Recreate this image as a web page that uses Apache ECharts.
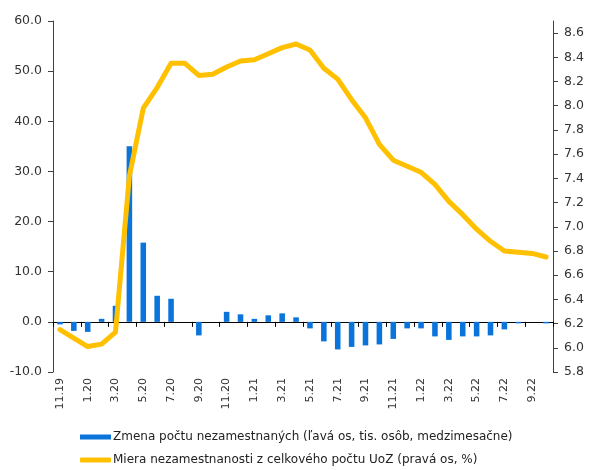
<!DOCTYPE html>
<html><head><meta charset="utf-8">
<script src="https://cdn.jsdelivr.net/npm/echarts@6/dist/echarts.min.js"></script>
<style>html,body{margin:0;padding:0;background:#fff}#c{width:589px;height:470px}</style>
</head><body><div id="c"></div>
<script>
const categories = ['11.19','12.19','1.20','2.20','3.20','4.20','5.20','6.20','7.20','8.20','9.20','10.20',
  '11.20','12.20','1.21','2.21','3.21','4.21','5.21','6.21','7.21','8.21','9.21','10.21',
  '11.21','12.21','1.22','2.22','3.22','4.22','5.22','6.22','7.22','8.22','9.22','10.22'];
const changeUnemployed = [-0.5,-1.8,-2.0,0.6,3.2,35.0,15.8,5.2,4.6,0,-2.7,0,
  2.0,1.5,0.6,1.3,1.7,0.9,-1.3,-3.9,-5.5,-5.0,-4.7,-4.5,
  -3.4,-1.3,-1.3,-2.9,-3.6,-2.9,-2.9,-2.7,-1.5,-0.3,0,-0.3];
const unemploymentRate = [6.15,6.08,6.01,6.03,6.13,7.42,7.98,8.15,8.35,8.35,8.25,8.26,
  8.32,8.37,8.38,8.43,8.48,8.51,8.46,8.31,8.22,8.05,7.90,7.68,
  7.55,7.50,7.45,7.35,7.21,7.10,6.98,6.88,6.80,6.79,6.78,6.75];
const seriesNames = ['Zmena počtu nezamestnaných (ľavá os, tis. osôb, medzimesačne)',
  'Miera nezamestnanosti z celkového počtu UoZ (pravá os, %)'];

const font = 'DejaVu Sans, Verdana, sans-serif';
const axisColor = '#404040';
const chart = echarts.init(document.getElementById('c'), null, {renderer:'canvas'});
chart.setOption({
  animation:false,
  grid:{left:53,right:36,top:21,bottom:98,containLabel:false},
  legend:{
    orient:'vertical', left:80, top:431, height:60, padding:0, itemGap:11, itemWidth:31, itemHeight:5,
    textStyle:{fontFamily:font,fontSize:12,color:'#222',padding:[0,0,0,-3]},
    data:[{name:seriesNames[0],icon:'rect'},{name:seriesNames[1],icon:'roundRect'}]
  },
  xAxis:[
    {type:'category',data:categories,position:'bottom',
     axisLine:{show:false,onZero:false},axisTick:{show:false},
     axisLabel:{interval:1,rotate:90,margin:6,fontFamily:font,fontSize:11,color:'#333'}},
    {type:'category',data:categories,position:'top',
     axisLine:{show:true,onZero:true,lineStyle:{color:'#000',width:1}},
     axisTick:{show:true,inside:true,interval:1,length:5,lineStyle:{color:'#000'}},
     axisLabel:{show:false}}
  ],
  yAxis:[
    {type:'value',min:-10,max:60,interval:10,position:'left',
     splitLine:{show:false},
     axisLine:{show:true,lineStyle:{color:axisColor}},
     axisTick:{show:true,length:5,lineStyle:{color:axisColor}},
     axisLabel:{formatter:v=>v.toFixed(1),margin:11,fontFamily:font,fontSize:12.5,color:'#333'}},
    {type:'value',min:5.8,max:8.7,interval:0.2,position:'right',
     splitLine:{show:false},
     axisLine:{show:true,lineStyle:{color:axisColor}},
     axisTick:{show:true,length:5,lineStyle:{color:axisColor}},
     axisLabel:{showMaxLabel:false,formatter:v=>v.toFixed(1),margin:11,fontFamily:font,fontSize:12.5,color:'#333'}}
  ],
  series:[
    {name:seriesNames[0],type:'bar',xAxisIndex:0,yAxisIndex:0,data:changeUnemployed,
     barWidth:'40%',itemStyle:{color:'#0A74DA'}},
    {name:seriesNames[1],type:'line',xAxisIndex:0,yAxisIndex:1,data:unemploymentRate,
     symbol:'none',smooth:false,z:5,
     itemStyle:{color:'#FFC000'},
     lineStyle:{color:'#FFC000',width:5,cap:'round',join:'round'}}
  ]
});
</script></body></html>
